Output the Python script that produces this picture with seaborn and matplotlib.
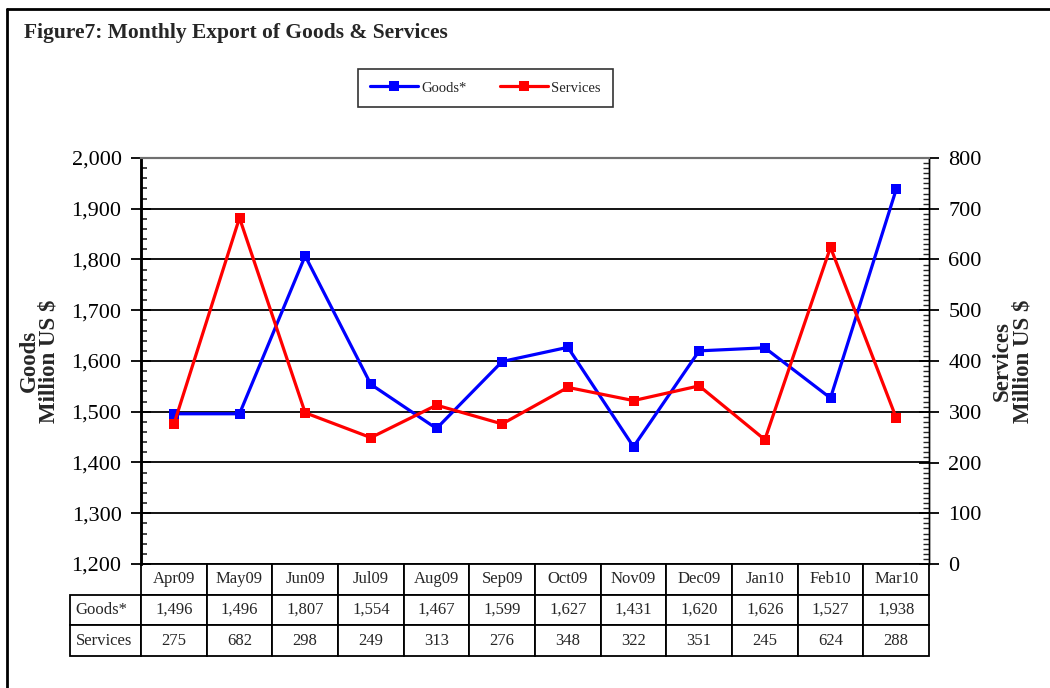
import numpy as np
import pandas as pd
import matplotlib
matplotlib.use("Agg")
import matplotlib.pyplot as plt
import seaborn as sns
from matplotlib.ticker import MultipleLocator, FuncFormatter
from matplotlib.lines import Line2D

months = ["Apr09", "May09", "Jun09", "Jul09", "Aug09", "Sep09",
          "Oct09", "Nov09", "Dec09", "Jan10", "Feb10", "Mar10"]
goods = [1496, 1496, 1807, 1554, 1467, 1599, 1627, 1431, 1620, 1626, 1527, 1938]
services = [275, 682, 298, 249, 313, 276, 348, 322, 351, 245, 624, 288]

sns.set_theme(style="white")
plt.rcParams['font.family'] = ['Liberation Serif', 'DejaVu Serif']
plt.rcParams['axes.unicode_minus'] = False

W, H = 1050, 688
fig = plt.figure(figsize=(W / 100, H / 100), dpi=100)
fig.patch.set_facecolor("white")

L, R, T, B = 141, 929, 158, 564
ax = fig.add_axes([L / W, 1 - B / H, (R - L) / W, (B - T) / H])
ax2 = ax.twinx()

df = pd.DataFrame({"pos": np.arange(len(months)), "Goods*": goods, "Services": services})

blue = "#0000FF"
red = "#FF0000"
sns.lineplot(data=df, x="pos", y="Goods*", ax=ax, color=blue, lw=2.3,
             marker="s", markersize=7, markeredgewidth=0, zorder=5)
sns.lineplot(data=df, x="pos", y="Services", ax=ax2, color=red, lw=2.3,
             marker="s", markersize=7, markeredgewidth=0, zorder=4)

ax.set_xlim(-0.5, len(months) - 0.5)
ax.set_ylim(1200, 2000)
ax2.set_ylim(0, 800)
ax.set_xticks([])
ax2.set_xticks([])
ax.set_xlabel("")
ax2.set_xlabel("")

ax.yaxis.set_major_locator(MultipleLocator(100))
ax.yaxis.set_minor_locator(MultipleLocator(20))
ax.yaxis.set_major_formatter(FuncFormatter(lambda v, p: f"{int(v):,}"))
ax2.yaxis.set_major_locator(MultipleLocator(100))
ax2.yaxis.set_minor_locator(MultipleLocator(10))
ax2.yaxis.set_major_formatter(FuncFormatter(lambda v, p: f"{int(v)}"))

ax.tick_params(axis="y", which="major", direction="inout", length=14, width=1.3,
               labelsize=16, pad=7, colors="black", left=True)
ax.tick_params(axis="y", which="minor", direction="in", length=4, width=1.2, left=True)
ax2.tick_params(axis="y", which="major", direction="inout", length=14, width=1.3,
                labelsize=16, pad=7, colors="black", right=True)
ax2.tick_params(axis="y", which="minor", direction="in", length=4, width=1.0, right=True)

ax.yaxis.grid(True, which="major", color="black", lw=1.3)
ax.set_axisbelow(True)

for a in (ax, ax2):
    a.spines["bottom"].set_visible(False)
    a.spines["top"].set_color("#707070")
    a.spines["top"].set_linewidth(1.5)
    a.spines["left"].set_color("black")
    a.spines["left"].set_linewidth(1.8)
    a.spines["right"].set_color("black")
    a.spines["right"].set_linewidth(1.0)
    a.spines["right"].set_linestyle((0, (2, 1)))

ax.set_ylabel("Goods\nMillion US $", fontsize=16.5, fontweight="bold",
              linespacing=0.95)
ax2.set_ylabel("Services\nMillion US $", fontsize=16.5, fontweight="bold",
               linespacing=0.95, rotation=90)
ax.yaxis.set_label_coords(-(L - 60) / (R - L), 0.5)
ax2.yaxis.set_label_coords(1 + (992 - R) / (R - L), 0.5)

# data table
cell_text = [[""] + months,
             ["Goods*"] + [f"{v:,}" for v in goods],
             ["Services"] + [str(v) for v in services]]
lab_w = 71
col_w = (R - L) / len(months)
tot_w = lab_w + (R - L)
widths = [lab_w / tot_w] + [col_w / tot_w] * len(months)
tb_h = 656 - B
tbl = ax.table(cellText=cell_text, cellLoc="center", colWidths=widths,
               bbox=[-lab_w / (R - L), -tb_h / (B - T), tot_w / (R - L), tb_h / (B - T)])
tbl.auto_set_font_size(False)
tbl.set_fontsize(12)
for (r, c), cell in tbl.get_celld().items():
    cell.set_linewidth(1.3)
    cell.set_edgecolor("black")
    if c == 0:
        cell.set_text_props(ha="left")
        cell.PAD = 0.08
    if r == 0 and c == 0:
        cell.visible_edges = ""

# legend
handles = [Line2D([], [], color=blue, lw=2.3, marker="s", markersize=7, markeredgewidth=0),
           Line2D([], [], color=red, lw=2.3, marker="s", markersize=7, markeredgewidth=0)]
leg = fig.legend(handles, ["Goods*", "Services"], loc="center",
                 bbox_to_anchor=(485.5 / W, 1 - 88 / H), ncol=2, fontsize=10.5,
                 frameon=True, fancybox=False, shadow=False, handlelength=3.3,
                 columnspacing=2.3, borderpad=0.85, handletextpad=0.2)
leg.get_frame().set_edgecolor("black")
leg.get_frame().set_linewidth(1.2)

# title
fig.text(24 / W, 1 - 33 / H, "Figure7: Monthly Export of Goods & Services",
         fontsize=15.5, fontweight="bold", ha="left", va="center")

# outer border (top and left visible)
fig.add_artist(Line2D([7 / W, 1], [1 - 9 / H, 1 - 9 / H], transform=fig.transFigure,
                      color="black", lw=2))
fig.add_artist(Line2D([7 / W, 7 / W], [0, 1 - 9 / H], transform=fig.transFigure,
                      color="black", lw=2))

fig.savefig("out.png", dpi=100)
